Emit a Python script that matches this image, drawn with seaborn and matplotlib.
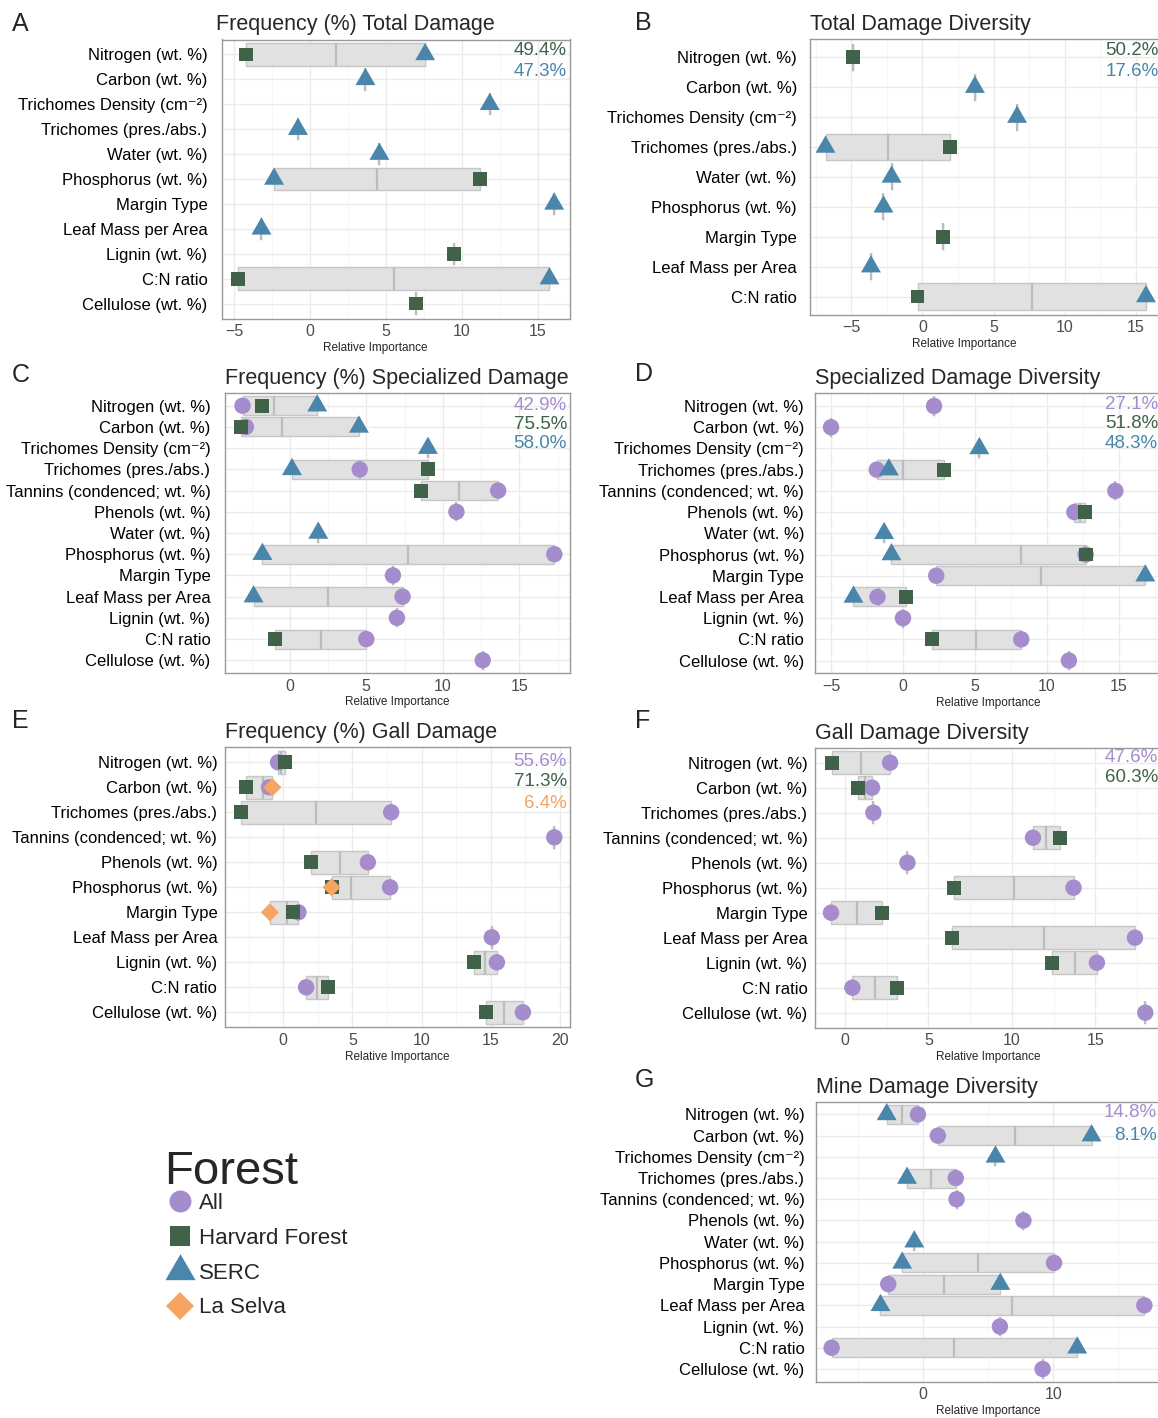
import numpy as np
import pandas as pd
import matplotlib
matplotlib.use("Agg")
import matplotlib.pyplot as plt
import seaborn as sns
from matplotlib.lines import Line2D
from matplotlib.ticker import MultipleLocator

nan = np.nan

# ---------------------------------------------------------------- traits
NITROGEN = "Nitrogen (wt. %)"
CARBON = "Carbon (wt. %)"
TRICH_DENS = "Trichomes Density (cm\u207b\u00b2)"
TRICH_PA = "Trichomes (pres./abs.)"
TANNINS = "Tannins (condenced; wt. %)"
PHENOLS = "Phenols (wt. %)"
WATER = "Water (wt. %)"
PHOSPHORUS = "Phosphorus (wt. %)"
MARGIN = "Margin Type"
LMA = "Leaf Mass per Area"
LIGNIN = "Lignin (wt. %)"
CN = "C:N ratio"
CELLULOSE = "Cellulose (wt. %)"

forests = ["All", "Harvard Forest", "SERC", "La Selva"]
forest_colors = ["#A58CCD", "#406248", "#4A86AB", "#F5A461"]

# ---------------------------------------------------------------- A: Frequency (%) Total Damage
a_traits = [NITROGEN, CARBON, TRICH_DENS, TRICH_PA, WATER, PHOSPHORUS, MARGIN,
            LMA, LIGNIN, CN, CELLULOSE]
a_harvard = [-4.23, nan, nan, nan, nan, 11.19, nan, nan, 9.51, -4.77, 6.96]
a_serc = [7.59, 3.65, 11.85, -0.80, 4.57, -2.38, 16.10, -3.21, nan, 15.79, nan]
a_pct_forest = ["Harvard Forest", "SERC"]
a_pct = ["49.4%", "47.3%"]

# ---------------------------------------------------------------- B: Total Damage Diversity
b_traits = [NITROGEN, CARBON, TRICH_DENS, TRICH_PA, WATER, PHOSPHORUS, MARGIN, LMA, CN]
b_harvard = [-4.88, nan, nan, 1.95, nan, nan, 1.43, nan, -0.34]
b_serc = [nan, 3.69, 6.65, -6.80, -2.16, -2.73, nan, -3.61, 15.70]
b_pct_forest = ["Harvard Forest", "SERC"]
b_pct = ["50.2%", "17.6%"]

# ---------------------------------------------------------------- C: Frequency (%) Specialized Damage
c_traits = [NITROGEN, CARBON, TRICH_DENS, TRICH_PA, TANNINS, PHENOLS, WATER,
            PHOSPHORUS, MARGIN, LMA, LIGNIN, CN, CELLULOSE]
c_all = [-3.09, -2.87, nan, 4.57, 13.62, 10.89, nan, 17.29, 6.74, 7.37, 7.00, 5.00, 12.61]
c_harvard = [-1.79, -3.21, nan, 9.06, 8.55, nan, nan, nan, nan, nan, nan, -0.97, nan]
c_serc = [1.79, 4.52, 9.03, 0.14, nan, nan, 1.86, -1.79, nan, -2.37, nan, nan, nan]
c_pct_forest = ["All", "Harvard Forest", "SERC"]
c_pct = ["42.9%", "75.5%", "58.0%"]

# ---------------------------------------------------------------- D: Specialized Damage Diversity
d_traits = c_traits
d_all = [2.16, -5.00, nan, -1.82, 14.76, 11.91, nan, 12.70, 2.31, -1.77, 0.00, 8.22, 11.53]
d_harvard = [nan, nan, nan, 2.85, nan, 12.66, nan, 12.73, nan, 0.23, nan, 2.00, nan]
d_serc = [nan, nan, 5.31, -0.98, nan, nan, -1.31, -0.80, 16.84, -3.44, nan, nan, nan]
d_pct_forest = ["All", "Harvard Forest", "SERC"]
d_pct = ["27.1%", "51.8%", "48.3%"]

# ---------------------------------------------------------------- E: Frequency (%) Gall Damage
e_traits = [NITROGEN, CARBON, TRICH_PA, TANNINS, PHENOLS, PHOSPHORUS, MARGIN,
            LMA, LIGNIN, CN, CELLULOSE]
e_all = [-0.37, -1.02, 7.81, 19.60, 6.12, 7.73, 1.10, 15.08, 15.45, 1.66, 17.33]
e_harvard = [0.11, -2.67, -3.07, nan, 2.03, 3.53, 0.70, nan, 13.77, 3.26, 14.63]
e_laselva = [nan, -0.78, nan, nan, nan, 3.50, -0.96, nan, nan, nan, nan]
e_pct_forest = ["All", "Harvard Forest", "La Selva"]
e_pct = ["55.6%", "71.3%", "6.4%"]

# ---------------------------------------------------------------- F: Gall Damage Diversity
f_traits = e_traits
f_all = [2.70, 1.62, 1.70, 11.26, 3.74, 13.69, -0.84, 17.37, 15.09, 0.44, 17.99]
f_harvard = [-0.77, 0.77, nan, 12.88, nan, 6.53, 2.23, 6.42, 12.41, 3.12, nan]
f_pct_forest = ["All", "Harvard Forest"]
f_pct = ["47.6%", "60.3%"]

# ---------------------------------------------------------------- G: Mine Damage Diversity
g_traits = c_traits
g_all = [-0.40, 1.13, nan, 2.51, 2.57, 7.71, nan, 10.06, -2.68, 17.00, 5.90, -7.03, 9.18]
g_serc = [-2.80, 12.94, 5.56, -1.24, nan, nan, -0.68, -1.61, 5.93, -3.28, nan, 11.84, nan]
g_pct_forest = ["All", "SERC"]
g_pct = ["14.8%", "8.1%"]

# ---------------------------------------------------------------- style
sns.set_style("white")
plt.rcParams["font.family"] = ["Liberation Sans", "DejaVu Sans"]

W, H = 1158, 1418

COLOR = dict(zip(forests, forest_colors))
TRI = [(-1.0, -0.5774), (1.0, -0.5774), (0.0, 1.1547)]  # equilateral, centred
MARKERS = {"All": "o", "Harvard Forest": "s", "SERC": TRI, "La Selva": "D"}
SIZES = {"All": 140, "Harvard Forest": 100, "SERC": 275, "La Selva": 85}

fig = plt.figure(figsize=(W / 100, H / 100), dpi=100)
fig.patch.set_facecolor("white")


def px_axes(left, top, right, bottom):
    return fig.add_axes([left / W, 1 - bottom / H, (right - left) / W, (bottom - top) / H])


def draw_panel(letter, title, traits, series, pct_forest, pct, rect, letter_xy,
               step=5, ypad=6, xlab_dx=0, title_dx=0, pct_y=(11, 32)):
    ax = px_axes(*rect)
    width_px = rect[2] - rect[0]

    records = []
    for forest in forests:
        vals = series.get(forest)
        if vals is None:
            continue
        for i, v in enumerate(vals):
            if not np.isnan(v):
                records.append({"trait": traits[i], "row": i, "forest": forest,
                                "importance": v})
    df = pd.DataFrame(records)

    # crossbar: range of forest estimates per trait with the mean marked
    stats = df.groupby("row")["importance"].agg(["min", "max", "mean"])
    ax.barh(stats.index, stats["max"] - stats["min"], left=stats["min"], height=0.9,
            color="#E1E1E1", edgecolor="#C6C6C6", linewidth=1.0, zorder=2)
    ax.vlines(stats["mean"], stats.index - 0.45, stats.index + 0.45,
              color="#BCBCBC", linewidth=1.6, zorder=2.5)

    present = [f for f in forests if f in set(df["forest"])]
    sns.scatterplot(data=df, x="importance", y="row", hue="forest", style="forest",
                    size="forest", hue_order=present, style_order=present,
                    size_order=present, palette=COLOR, markers=MARKERS, sizes=SIZES,
                    linewidth=0, legend=False, ax=ax, zorder=3)

    lo, hi = df["importance"].min(), df["importance"].max()
    pad = 0.05 * (hi - lo)
    ax.set_xlim(lo - pad, hi + pad)
    n = len(traits)
    ax.set_ylim(n - 1 + 0.6, -0.6)
    ax.set_yticks(range(n))
    ax.set_yticklabels(traits)
    ax.set_ylabel("")

    ax.xaxis.set_major_locator(MultipleLocator(step))
    ax.xaxis.set_minor_locator(MultipleLocator(step / 2))
    ax.set_axisbelow(True)
    ax.grid(True, which="major", axis="both", color="#EBEBEB", linewidth=1.0)
    ax.grid(True, which="minor", axis="x", color="#F4F4F4", linewidth=0.6)
    ax.tick_params(axis="both", which="major", length=2.5, width=0.8, color="#8A8A8A")
    ax.tick_params(axis="x", which="major", labelsize=11.5, labelcolor="#4D4D4D", pad=1.5)
    ax.tick_params(axis="y", which="major", labelsize=12, labelcolor="black", pad=ypad)
    ax.tick_params(which="minor", length=0)
    for s in ax.spines.values():
        s.set_color("#9A9A9A")
        s.set_linewidth(1.0)

    ax.set_xlabel("Relative Importance", fontsize=8.5, labelpad=2,
                  x=0.5 + xlab_dx / width_px)
    ax.set_title(title, loc="left", fontsize=15.5, pad=6.5, x=title_dx / width_px)

    for forest, txt, dy in zip(pct_forest, pct, pct_y):
        ax.annotate(txt, xy=(1, 1), xycoords="axes fraction", xytext=(-3, -dy),
                    textcoords="offset pixels", ha="right", va="center",
                    fontsize=13.5, color=COLOR[forest])

    fig.text(letter_xy[0] / W, 1 - letter_xy[1] / H, letter, fontsize=18,
             ha="left", va="center")
    return ax


draw_panel("A", "Frequency (%) Total Damage", a_traits,
           {"Harvard Forest": a_harvard, "SERC": a_serc}, a_pct_forest, a_pct,
           (222, 39.5, 570, 318.5), (12, 24), ypad=8, xlab_dx=-21, title_dx=-6,
           pct_y=(10.7, 31.7))
draw_panel("B", "Total Damage Diversity", b_traits,
           {"Harvard Forest": b_harvard, "SERC": b_serc}, b_pct_forest, b_pct,
           (809.5, 39.3, 1162, 314.5), (635, 23.5), ypad=6.5, xlab_dx=-21,
           pct_y=(11, 32.7))
draw_panel("C", "Frequency (%) Specialized Damage", c_traits,
           {"All": c_all, "Harvard Forest": c_harvard, "SERC": c_serc},
           c_pct_forest, c_pct, (225, 393, 570, 673), (12, 374.5), ypad=8,
           pct_y=(12.3, 31.7, 50))
draw_panel("D", "Specialized Damage Diversity", d_traits,
           {"All": d_all, "Harvard Forest": d_harvard, "SERC": d_serc},
           d_pct_forest, d_pct, (815.3, 393.3, 1161, 673.3), (635, 374), ypad=5.5,
           pct_y=(11, 29.7, 50.3))
draw_panel("E", "Frequency (%) Gall Damage", e_traits,
           {"All": e_all, "Harvard Forest": e_harvard, "La Selva": e_laselva},
           e_pct_forest, e_pct, (225, 747.3, 570, 1027.3), (12, 721), ypad=3,
           pct_y=(14, 34.7, 56.3))
draw_panel("F", "Gall Damage Diversity", f_traits,
           {"All": f_all, "Harvard Forest": f_harvard}, f_pct_forest, f_pct,
           (815.3, 747.7, 1161, 1027.7), (635, 720.7), ypad=3.2,
           pct_y=(10.3, 29.7))
draw_panel("G", "Mine Damage Diversity", g_traits,
           {"All": g_all, "SERC": g_serc}, g_pct_forest, g_pct,
           (816, 1101.7, 1160, 1381.7), (635, 1080), step=10, ypad=5.8,
           pct_y=(11, 34.3))

# ---------------------------------------------------------------- legend
fig.text(164 / W, 1 - 1172 / H, "Forest", fontsize=34, ha="left", va="center")
legend_sizes = {"All": 15.8, "Harvard Forest": 14.4, "SERC": 25, "La Selva": 14.2}
handles = [Line2D([], [], linestyle="none", marker=MARKERS[f], color=COLOR[f],
                  markeredgewidth=0, markersize=legend_sizes[f]) for f in forests]
fig.legend(handles, forests, loc="upper left",
           bbox_to_anchor=(169 / W, 1 - 1193 / H), frameon=False,
           fontsize=16, handlelength=1.0, handletextpad=0.35, labelspacing=0.62,
           borderpad=0, borderaxespad=0)

fig.savefig("out.png", dpi=100, facecolor="white")
